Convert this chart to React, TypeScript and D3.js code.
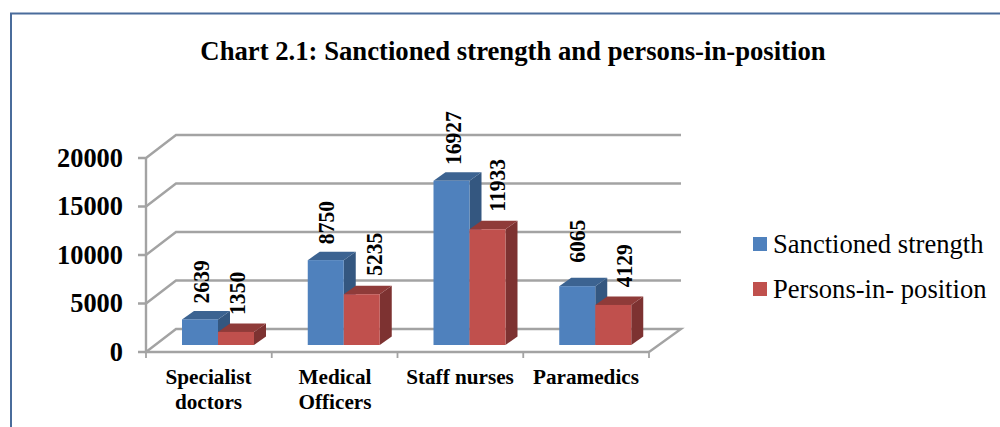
import React from "react";
import * as d3 from "d3";

const categories = ["Specialist doctors", "Medical Officers", "Staff nurses", "Paramedics"];
const categoryLines = [["Specialist", "doctors"], ["Medical", "Officers"], ["Staff nurses"], ["Paramedics"]];
const seriesNames = ["Sanctioned strength", "Persons-in- position"];
const sanctioned = [2639, 8750, 16927, 6065];
const inPosition = [1350, 5235, 11933, 4129];
const yTicks = [0, 5000, 10000, 15000, 20000];
const title = "Chart 2.1: Sanctioned strength and persons-in-position";

const SERIF = "'Liberation Serif','Times New Roman',serif";
const GRID = "#a3a3a3";
const COLORS = [
  { front: "#4f81bd", top: "#3c6391", side: "#345780" },
  { front: "#c0504d", top: "#8f3b39", side: "#7d3231" },
];
const DX = 32, DY = -23;
const BAR_DX = 12, BAR_DY = -8.5;
// The reference's data labels were placed by hand: horizontal shift and gap above the bar, per series.
const LABEL_SHIFT = [[1, 0.7, 1, 0], [1, 12, 9, 11]];
const LABEL_GAP = [[16, 16, 15.8, 23.3], [17, 18.5, 17.6, 17.7]];

export default function App() {
  const x = d3.scaleBand<string>().domain(categories).range([146, 649]);
  const xSeries = d3.scaleBand<string>().domain(seriesNames).range([36, 108]);
  const yAxis = d3.scaleLinear().domain([0, 20000]).range([352, 158]);
  const yBar = d3.scaleLinear().domain([0, 20000]).range([345, 151]);
  const [x0, x1] = x.range();
  const series = [sanctioned, inPosition];
  const line = d3.line();

  return (
    <svg width={1000} height={427} viewBox="0 0 1000 427"
      style={{ position: "fixed", left: 0, top: 0, background: "#fff" }}>
      <path d="M11 427V13.5H1000" fill="none" stroke="#4a6c9b" strokeWidth={2} />
      <text x={513} y={60} textAnchor="middle" fontFamily={SERIF} fontWeight="bold" fontSize={26.7} fill="#000">{title}</text>

      {yTicks.map((t) => {
        const yy = yAxis(t);
        return (
          <g key={t}>
            {t > 0 && (
              <path d={line([[x0 + DX, yy + DY], [x1 + DX, yy + DY]])!} stroke={GRID} strokeWidth={2.4} fill="none" />
            )}
            <path d={line([[x0 - 8, yy], [x0, yy], [x0 + DX - 2, yy + DY], [x0 + DX, yy + DY]])!} stroke={GRID} strokeWidth={2.4} fill="none" />
            <text x={123} y={yy + 8.5} textAnchor="end" fontFamily={SERIF} fontWeight="bold" fontSize={26.4} fill="#000">{t}</text>
          </g>
        );
      })}
      <path d={line([[x0 + DX, yAxis(0) + DY], [x1 + DX, yAxis(0) + DY], [x1, yAxis(0)]])!} stroke={GRID} strokeWidth={2.4} fill="none" />
      <path d={line([[x0, yAxis(20000)], [x0, yAxis(0)], [x1, yAxis(0)]])!} stroke={GRID} strokeWidth={2.4} fill="none" />
      {[...categories.map((c) => x(c)!), x1].map((tx, i) => (
        <path key={i} d={line([[tx, yAxis(0)], [tx, yAxis(0) + 6]])!} stroke={GRID} strokeWidth={1.8} fill="none" />
      ))}

      {categories.map((c, ci) => (
        <g key={c}>
          {seriesNames.map((s, si) => {
            const v = series[si][ci];
            const bx = x(c)! + xSeries(s)!;
            const w = xSeries.bandwidth();
            const top = yBar(v), bot = yBar(0);
            const col = COLORS[si];
            return (
              <g key={s}>
                <path d={`M${bx + w} ${top}L${bx + w + BAR_DX} ${top + BAR_DY}V${bot + BAR_DY}L${bx + w} ${bot}Z`} fill={col.side} />
                <path d={`M${bx} ${top}L${bx + BAR_DX} ${top + BAR_DY}H${bx + w + BAR_DX}L${bx + w} ${top}Z`} fill={col.top} />
                <rect x={bx} y={top} width={w} height={bot - top} fill={col.front} />
              </g>
            );
          })}
        </g>
      ))}

      {categories.map((c, ci) =>
        seriesNames.map((s, si) => {
          const v = series[si][ci];
          const cx = x(c)! + xSeries(s)! + xSeries.bandwidth() / 2 + 8 + LABEL_SHIFT[si][ci];
          const cy = yBar(v) - LABEL_GAP[si][ci];
          return (
            <text key={s} transform={`translate(${cx},${cy}) rotate(-90) scale(0.98,1.06)`} fontFamily={SERIF} fontWeight="bold" fontSize={22} fill="#000">{v}</text>
          );
        })
      )}

      {categories.map((c, ci) => (
        <text key={c} textAnchor="middle" fontFamily={SERIF} fontWeight="bold" fontSize={21.2} fill="#000">
          {categoryLines[ci].map((l, li) => (
            <tspan key={l} x={[208.5, 335, 460, 586][ci]} y={384 + li * 24.5}>{l}</tspan>
          ))}
        </text>
      ))}

      {seriesNames.map((s, i) => (
        <g key={s}>
          <rect x={753} y={237 + i * 45} width={14} height={14} fill={COLORS[i].front} />
          <text x={773} y={253 + i * 45} fontFamily={SERIF} fontSize={26.6} fill="#000">{s}</text>
        </g>
      ))}
    </svg>
  );
}
